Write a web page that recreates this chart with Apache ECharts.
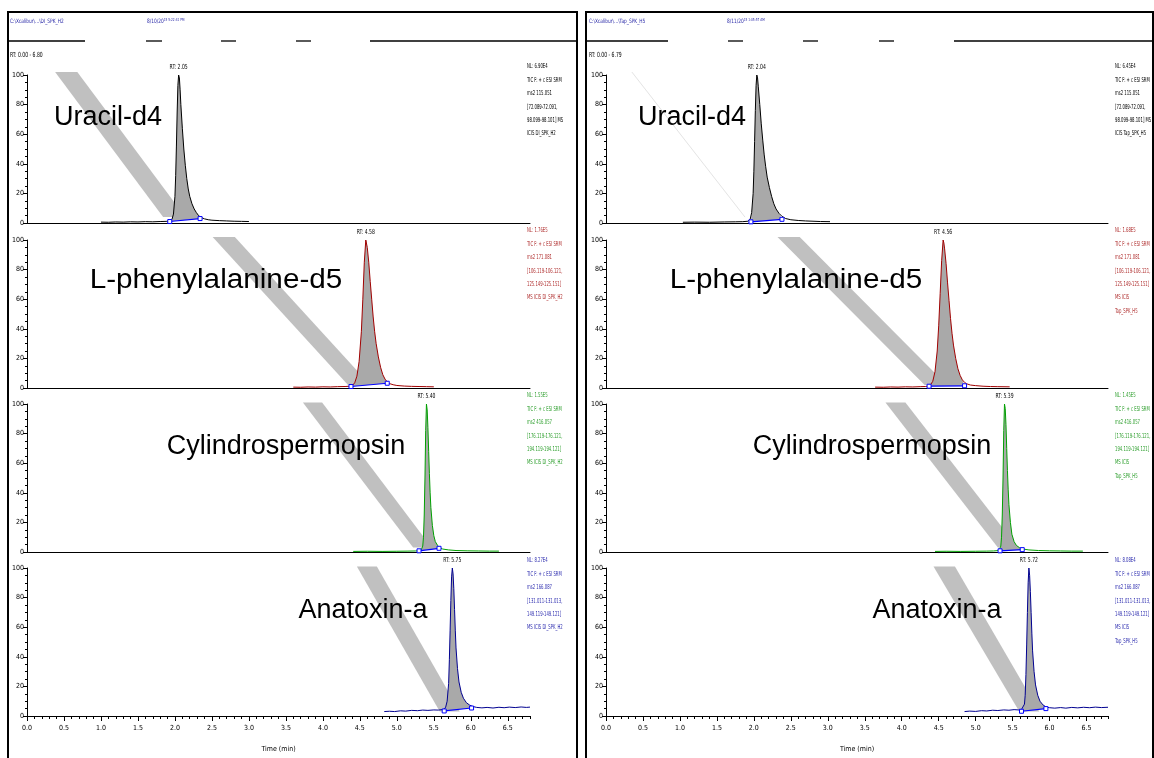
<!DOCTYPE html>
<html><head><meta charset="utf-8">
<script src="https://cdn.jsdelivr.net/npm/echarts@6/dist/echarts.min.js"></script>
<style>html,body{margin:0;padding:0;background:#fff}#c{width:1154px;height:758px}</style>
</head><body><div id="c"></div><script>
// ---------------- DATA ----------------
const compounds = ['Uracil-d4', 'L-phenylalanine-d5', 'Cylindrospermopsin', 'Anatoxin-a'];
const rtDI  = [2.05, 4.58, 5.40, 5.75];
const rtTap = [2.04, 4.56, 5.39, 5.72];
const nlDI  = ['6.90E4', '1.76E5', '1.55E5', '8.27E4'];
const nlTap = ['6.45E4', '1.68E5', '1.45E5', '8.08E4'];
const ms2Mass = ['115.051', '171.081', '416.057', '166.087'];
const ms2Range = [
  ['72.089-72.091', '98.099-98.101'],
  ['106.119-106.121', '125.149-125.151'],
  ['176.119-176.121', '194.119-194.121'],
  ['131.011-131.013', '149.119-149.121']
];
const fileDI = 'C:\\Xcalibur\\...\\DI_SPK_H2';
const fileTap = 'C:\\Xcalibur\\...\\Tap_SPK_H5';
const dateDI = ['8/10/20', '15 5:22:41 PM'];
const dateTap = ['8/11/20', '15 1:05:57 AM'];
const rtRangeDI = 'RT: 0.00 - 6.80';
const rtRangeTap = 'RT: 0.00 - 6.79';
const xMaxDI = 6.8, xMaxTap = 6.79;
const yTickLabels = ['0', '20', '40', '60', '80', '100'];

// chromatogram traces [time(min), relative abundance]
const uracilDI = [[1.00,0.6],[1.10,0.5],[1.20,0.7],[1.30,0.6],[1.40,0.8],[1.50,0.7],[1.60,0.9],[1.70,0.8],[1.80,1.0],[1.88,1.1],[1.93,1.3],[1.96,2.5],[1.98,6],[2.00,18],[2.01,32],[2.02,52],[2.03,75],[2.04,93],[2.05,100],[2.06,98],[2.07,90],[2.08,80],[2.10,64],[2.12,50],[2.14,39],[2.16,30],[2.18,23],[2.20,18],[2.23,13],[2.26,9.5],[2.29,7],[2.32,5],[2.35,3.8],[2.40,2.8],[2.45,2.2],[2.50,1.9],[2.60,1.6],[2.70,1.4],[2.80,1.2],[2.90,1.1],[3.00,1.0]];
const uracilTap = [[1.04,0.5],[1.20,0.6],[1.40,0.5],[1.60,0.7],[1.75,0.8],[1.85,0.9],[1.92,1.2],[1.95,2.5],[1.97,7],[1.99,20],[2.00,35],[2.01,55],[2.02,76],[2.03,93],[2.04,100],[2.05,98],[2.06,92],[2.08,80],[2.10,67],[2.12,56],[2.14,46],[2.16,38],[2.18,31],[2.21,24],[2.24,18],[2.27,13],[2.30,9.5],[2.34,6.5],[2.38,4.5],[2.43,3],[2.50,2.2],[2.60,1.7],[2.70,1.4],[2.80,1.2],[2.90,1.0],[3.03,0.9]];
const pheDI = [[3.60,0.6],[3.70,0.5],[3.80,0.7],[3.90,0.6],[4.00,0.8],[4.10,0.7],[4.20,0.9],[4.30,1.0],[4.36,1.2],[4.40,1.8],[4.43,3.5],[4.46,8],[4.49,18],[4.52,38],[4.54,60],[4.56,85],[4.58,100],[4.59,99],[4.60,95],[4.62,85],[4.64,72],[4.66,60],[4.68,48],[4.70,38],[4.72,30],[4.75,21],[4.78,14],[4.81,9],[4.84,6],[4.87,4.2],[4.90,3],[4.95,2.2],[5.00,1.7],[5.10,1.3],[5.20,1.1],[5.30,1.0],[5.40,0.9],[5.50,0.8]];
const pheTap = [[3.64,0.6],[3.75,0.5],[3.85,0.7],[3.95,0.6],[4.05,0.8],[4.15,0.7],[4.25,0.9],[4.32,1.0],[4.36,1.3],[4.39,2.2],[4.42,4.5],[4.45,11],[4.48,25],[4.50,42],[4.52,64],[4.54,86],[4.56,100],[4.57,98],[4.58,94],[4.60,84],[4.62,71],[4.64,59],[4.66,47],[4.68,37],[4.70,29],[4.73,20],[4.76,13],[4.79,8.5],[4.82,5.5],[4.85,3.8],[4.88,2.8],[4.93,2.0],[5.00,1.6],[5.10,1.2],[5.20,1.0],[5.30,0.9],[5.46,0.8]];
const cylDI = [[4.41,0.4],[4.60,0.5],[4.80,0.4],[5.00,0.5],[5.15,0.6],[5.25,0.7],[5.30,0.9],[5.33,1.5],[5.35,4],[5.36,10],[5.37,25],[5.38,50],[5.39,82],[5.40,100],[5.41,96],[5.42,84],[5.43,68],[5.44,53],[5.45,40],[5.46,30],[5.48,18],[5.50,11],[5.52,7],[5.55,4.5],[5.58,3],[5.62,2],[5.70,1.4],[5.80,1.0],[5.95,0.8],[6.10,0.7],[6.25,0.6],[6.38,0.6]];
const cylTap = [[4.45,0.4],[4.60,0.5],[4.80,0.4],[5.00,0.5],[5.15,0.6],[5.24,0.7],[5.29,0.9],[5.32,1.5],[5.34,4],[5.35,10],[5.36,25],[5.37,50],[5.38,82],[5.39,100],[5.40,97],[5.41,86],[5.42,70],[5.43,55],[5.44,42],[5.45,32],[5.47,20],[5.49,12],[5.52,7],[5.55,4.5],[5.59,3],[5.64,2],[5.72,1.4],[5.85,1.0],[6.00,0.8],[6.15,0.7],[6.30,0.6],[6.45,0.6]];
const anaDI = [[4.83,3.0],[4.90,3.2],[4.97,3.0],[5.05,3.5],[5.12,3.3],[5.20,3.8],[5.28,3.6],[5.35,4.0],[5.42,3.8],[5.50,4.1],[5.56,4.0],[5.61,4.3],[5.64,4.6],[5.66,6],[5.68,10],[5.70,22],[5.71,38],[5.72,58],[5.73,78],[5.74,94],[5.75,100],[5.76,96],[5.77,86],[5.78,72],[5.79,58],[5.80,46],[5.82,32],[5.84,23],[5.87,16],[5.90,12],[5.94,9],[5.98,7.5],[6.02,6.5],[6.08,5.8],[6.15,5.5],[6.22,5.8],[6.30,5.4],[6.38,5.9],[6.45,5.6],[6.52,6.0],[6.60,5.7],[6.68,6.1],[6.75,5.8],[6.80,6.0]];
const anaTap = [[4.85,3.0],[4.92,3.3],[5.00,3.1],[5.08,3.6],[5.15,3.4],[5.23,3.9],[5.30,3.7],[5.38,4.1],[5.45,3.9],[5.52,4.3],[5.58,4.1],[5.62,4.4],[5.64,5],[5.66,8],[5.67,14],[5.68,28],[5.69,48],[5.70,70],[5.71,90],[5.72,100],[5.73,95],[5.74,84],[5.75,70],[5.76,56],[5.77,44],[5.79,30],[5.81,21],[5.84,14],[5.87,10],[5.91,7.5],[5.95,6.2],[6.00,5.6],[6.07,5.3],[6.15,5.7],[6.22,5.3],[6.30,5.8],[6.38,5.5],[6.46,5.9],[6.54,5.6],[6.62,6.0],[6.70,5.7],[6.79,5.9]];

// integration baselines [start, end]
const uracilDIBase = [[1.93,1.0],[2.34,3.0]];
const uracilTapBase = [[1.96,0.8],[2.38,2.5]];
const pheDIBase = [[4.38,1.0],[4.87,3.2]];
const pheTapBase = [[4.37,1.2],[4.85,1.5]];
const cylDIBase = [[5.30,0.8],[5.57,2.5]];
const cylTapBase = [[5.33,0.8],[5.63,1.6]];
const anaDIBase = [[5.64,3.4],[6.01,5.4]];
const anaTapBase = [[5.62,3.2],[5.95,5.0]];

// grey pointer bands (corners in data coordinates)
const uracilDIBand = [[0.38,102],[0.68,102],[2.14,4],[1.84,4]];
const uracilTapBand = [[0.35,102],[1.88,4]];
const pheDIBand = [[2.51,102],[2.81,102],[4.64,2],[4.34,2]];
const pheTapBand = [[2.32,102],[2.62,102],[4.61,2],[4.31,2]];
const cylDIBand = [[3.73,101],[3.99,101],[5.47,3],[5.22,3]];
const cylTapBand = [[3.78,101],[4.05,101],[5.57,3],[5.30,3]];
const anaDIBand = [[4.46,101],[4.73,101],[5.85,3],[5.58,3]];
const anaTapBand = [[4.43,101],[4.72,101],[5.86,3],[5.59,3]];

// ---------------- STYLE / LAYOUT ----------------
const NARROW = "'Liberation Sans Narrow','Arial Narrow','DejaVu Sans Condensed',sans-serif";
const SANS = "'Liberation Sans',Arial,sans-serif";
const traceColors = ['#000000', '#a00000', '#00a000', '#000090'];
const annColors = ['#000000', '#b03030', '#30a030', '#3030b0'];
const panelTops = [75, 240, 404, 568];
const panelH = 148;
const sides = [
  {left: 27, width: 503, xmax: xMaxDI, rt: rtDI, nl: nlDI, tag: 'DI_SPK_H2', annX: 527, wide: true,
   traces: [uracilDI, pheDI, cylDI, anaDI], bases: [uracilDIBase, pheDIBase, cylDIBase, anaDIBase],
   bands: [uracilDIBand, pheDIBand, cylDIBand, anaDIBand],
   labelCX: [108, 216, 286, 363]},
  {left: 606, width: 502, xmax: xMaxTap, rt: rtTap, nl: nlTap, tag: 'Tap_SPK_H5', annX: 1115, wide: false,
   traces: [uracilTap, pheTap, cylTap, anaTap], bases: [uracilTapBase, pheTapBase, cylTapBase, anaTapBase],
   bands: [uracilTapBand, pheTapBand, cylTapBand, anaTapBand],
   labelCX: [692, 796, 872, 937]}
];
const labelY = [118, 281, 447, 611];
const labelSX = [1, 1.1, 1, 1];
const annTop = [60, 224, 389, 554];
const SQ = 0.72; // horizontal squeeze for the narrow instrument font

const grid = [], xAxis = [], yAxis = [], series = [], graphic = [];
const extraX = [];

sides.forEach((s, si) => {
  for (let p = 0; p < 4; p++) {
    const gi = si * 4 + p;
    const bottom = p === 3;
    grid.push({left: s.left, top: panelTops[p], width: s.width, height: panelH, outerBoundsMode: 'none', containLabel: false});
    xAxis.push({
      type: 'value', gridIndex: gi, min: 0, max: s.xmax, interval: 0.5,
      splitLine: {show: false},
      axisLine: {show: true, onZero: false, lineStyle: {color: '#000', width: 1}},
      axisTick: {show: bottom, length: 5, inside: false, lineStyle: {color: '#000'}},
      axisLabel: {show: bottom, showMaxLabel: false, color: '#000', fontSize: 7, fontFamily: NARROW, margin: 9,
        formatter: v => v.toFixed(1)},
      name: bottom ? 'Time (min)' : '', nameLocation: 'middle', nameGap: 30,
      nameTextStyle: {color: '#000', fontSize: 7, fontFamily: NARROW}
    });
    if (bottom) extraX.push({gi: gi, xmax: s.xmax});
    yAxis.push({
      type: 'value', gridIndex: gi, min: 0, max: 100, interval: 20,
      splitLine: {show: false},
      axisLine: {show: true, lineStyle: {color: '#000', width: 1}},
      axisTick: {show: true, length: 4, lineStyle: {color: '#000'}},
      minorTick: {show: true, splitNumber: 4, length: 2, lineStyle: {color: '#000'}},
      axisLabel: {color: '#000', fontSize: 7, fontFamily: NARROW, margin: 3,
        formatter: v => yTickLabels[Math.round(v / 20)] || ''}
    });

    const trace = s.traces[p], base = s.bases[p], band = s.bands[p];
    // band
    series.push({
      type: 'custom', xAxisIndex: gi, yAxisIndex: gi, z: 1, silent: true, clip: false,
      data: [band[0]],
      renderItem: (params, api) => {
        const pts = band.map(b => api.coord(b));
        if (band.length === 2) {
          return {type: 'polyline', shape: {points: pts}, style: {stroke: '#e4e4e4', lineWidth: 1, fill: null}};
        }
        return {type: 'polygon', shape: {points: pts}, style: {fill: '#c0c0c0'}};
      }
    });
    // peak fill
    series.push({
      type: 'custom', xAxisIndex: gi, yAxisIndex: gi, z: 2, silent: true, clip: false,
      data: [base[0]],
      renderItem: (params, api) => {
        const t0 = base[0][0], t1 = base[1][0];
        const pts = [api.coord(base[0])];
        trace.forEach(pt => { if (pt[0] > t0 && pt[0] < t1) pts.push(api.coord(pt)); });
        pts.push(api.coord(base[1]));
        return {type: 'polygon', shape: {points: pts}, style: {fill: '#a9a9a9'}};
      }
    });
    // trace
    series.push({
      type: 'line', xAxisIndex: gi, yAxisIndex: gi, z: 3, data: trace, showSymbol: false, symbol: 'none',
      lineStyle: {color: traceColors[p], width: 1}, silent: true
    });
    // integration baseline
    series.push({
      type: 'line', xAxisIndex: gi, yAxisIndex: gi, z: 4, data: base, symbol: 'rect', symbolSize: 4, showSymbol: true,
      lineStyle: {color: '#0000ff', width: 1.2},
      itemStyle: {color: '#ffffff', borderColor: '#0000ff', borderWidth: 1}, silent: true
    });
    // RT label (drawn at the apex through the axis scale)
    const rt = s.rt[p];
    series.push({
      type: 'custom', xAxisIndex: gi, yAxisIndex: gi, z: 5, silent: true, clip: false,
      data: [[rt, 100]],
      renderItem: (params, api) => {
        const c = api.coord([api.value(0), api.value(1)]);
        return {type: 'text', x: c[0], y: c[1] - 4, scaleX: SQ,
          style: {text: 'RT: ' + rt.toFixed(2), fill: '#000', fontSize: 7, fontFamily: NARROW, align: 'center', verticalAlign: 'bottom'}};
      }
    });

    // compound label
    graphic.push({type: 'text', x: s.labelCX[p], y: labelY[p], z: 100, scaleX: labelSX[p],
      style: {text: compounds[p], fill: '#000', fontSize: 27, fontFamily: SANS, verticalAlign: 'middle', align: 'center'}});

    // annotation
    const lines = ['NL: ' + s.nl[p], 'TIC F: + c ESI SRM', 'ms2 ' + ms2Mass[p], '[' + ms2Range[p][0] + ','];
    if (p === 0) {
      lines.push(ms2Range[p][1] + '] MS', 'ICIS ' + s.tag);
    } else if (s.wide) {
      lines.push(ms2Range[p][1] + ']', 'MS ICIS ' + s.tag);
    } else {
      lines.push(ms2Range[p][1] + ']', 'MS ICIS', s.tag);
    }
    graphic.push({type: 'text', x: s.annX, y: annTop[p], z: 100, scaleX: 0.62,
      style: {text: lines.join('\n'), fill: annColors[p], fontSize: 6.8, fontFamily: NARROW, lineHeight: 13.4, verticalAlign: 'top'}});
  }
});

// minor x ticks every 0.1 on bottom axes
extraX.forEach(e => {
  xAxis.push({
    type: 'value', gridIndex: e.gi, min: 0, max: e.xmax, interval: 0.1, position: 'bottom',
    splitLine: {show: false}, axisLine: {show: false}, axisLabel: {show: false},
    axisTick: {show: true, length: 3, lineStyle: {color: '#000'}}
  });
});

// frames & header
const frameLines = [
  [[7, 12], [578, 12]], [[8, 12], [8, 758]], [[577, 12], [577, 758]],
  [[585, 12], [1154, 12]], [[586, 12], [586, 758]], [[1153, 12], [1153, 758]]
];
frameLines.forEach(l => graphic.push({type: 'line', shape: {x1: l[0][0], y1: l[0][1], x2: l[1][0], y2: l[1][1]}, style: {stroke: '#000', lineWidth: 2}}));
const headerSegs = [[9, 85], [146, 162], [221, 236], [296, 311], [370, 577], [587, 668], [728, 743], [803, 818], [879, 894], [954, 1153]];
headerSegs.forEach(sg => graphic.push({type: 'line', shape: {x1: sg[0], y1: 41, x2: sg[1], y2: 41}, style: {stroke: '#000', lineWidth: 1.3}}));

[[10, fileDI, 147, dateDI, rtRangeDI], [589, fileTap, 727, dateTap, rtRangeTap]].forEach(h => {
  graphic.push({type: 'text', x: h[0], y: 21, scaleX: 0.8, style: {text: h[1], fill: '#2a2aa8', fontSize: 6, fontFamily: NARROW, verticalAlign: 'middle'}});
  graphic.push({type: 'text', x: h[2], y: 21, scaleX: 0.8, style: {
    text: '{a|' + h[3][0] + '}{b|' + h[3][1] + '}', verticalAlign: 'middle',
    rich: {a: {fill: '#2a2aa8', fontSize: 6, fontFamily: NARROW}, b: {fill: '#2a2aa8', fontSize: 4, fontFamily: NARROW, verticalAlign: 'top'}}
  }});
  graphic.push({type: 'text', x: h[0], y: 55, scaleX: SQ, style: {text: h[4], fill: '#000', fontSize: 7, fontFamily: NARROW, verticalAlign: 'middle'}});
});

const chart = echarts.init(document.getElementById('c'), null, {renderer: 'canvas'});
chart.setOption({
  animation: false,
  backgroundColor: '#ffffff',
  grid: grid, xAxis: xAxis, yAxis: yAxis, series: series, graphic: graphic
});
</script></body></html>
